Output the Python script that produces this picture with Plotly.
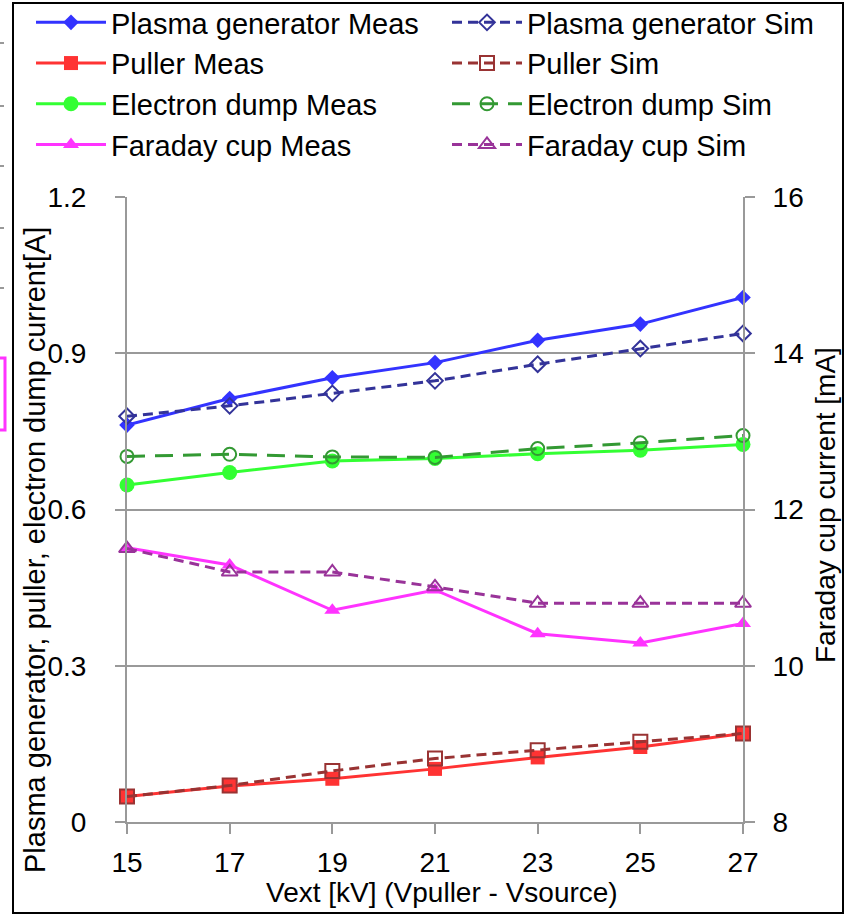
import plotly.graph_objects as go

# Extraction voltage [kV]
vext = [15, 17, 19, 21, 23, 25, 27]

# Currents on the left axis [A]
plasma_meas = [0.762, 0.813, 0.853, 0.882, 0.925, 0.956, 1.007]
plasma_sim = [0.779, 0.799, 0.823, 0.847, 0.879, 0.909, 0.938]
puller_meas = [0.049, 0.069, 0.083, 0.102, 0.124, 0.144, 0.170]
puller_sim = [0.049, 0.070, 0.098, 0.122, 0.138, 0.154, 0.170]
edump_meas = [0.647, 0.671, 0.693, 0.698, 0.707, 0.714, 0.725]
edump_sim = [0.702, 0.706, 0.701, 0.700, 0.717, 0.728, 0.742]

# Faraday cup current on the right axis [mA]
faraday_meas = [11.51, 11.29, 10.71, 10.97, 10.41, 10.29, 10.54]
faraday_sim = [11.50, 11.20, 11.20, 11.01, 10.80, 10.80, 10.80]

left_ticks = [0, 0.3, 0.6, 0.9, 1.2]
left_labels = ["0", "0.3", "0.6", "0.9", "1.2"]
right_ticks = [8, 10, 12, 14, 16]

W, H = 846, 916
ML, MR, MT, MB = 127, 103, 197, 94
PW, PH = W - ML - MR, H - MT - MB


def px_x(p):
    return (p - ML) / PW


def px_y(p):
    return (H - MB - p) / PH


FONT = "Liberation Sans"
GRAY = "#999999"

fig = go.Figure()


def add(y, name, color, symbol, size, dash, legend, yaxis="y", open_marker=False):
    marker = dict(symbol=symbol, size=size, color=color)
    if open_marker:
        marker = dict(symbol=symbol + "-open", size=size, color=color,
                      line=dict(width=2, color=color))
    fig.add_trace(go.Scatter(
        x=vext, y=y, name=name, mode="lines+markers",
        line=dict(color=color, width=3, dash=dash),
        marker=marker, yaxis=yaxis, legend=legend, cliponaxis=False,
    ))


# measured series (solid, filled markers)
add(plasma_meas, "Plasma generator Meas", "#3333FF", "diamond", 12, "solid", "legend")
add(puller_meas, "Puller Meas", "#FF3333", "square", 14, "solid", "legend")
add(edump_meas, "Electron dump Meas", "#33FF33", "circle", 15, "solid", "legend")
add(faraday_meas, "Faraday cup Meas", "#FF33FF", "triangle-up", 14, "solid", "legend", yaxis="y2")

# simulated series (dashed, open markers)
add(plasma_sim, "Plasma generator Sim", "#333399", "diamond", 12, "10px,6px", "legend2", open_marker=True)
add(puller_sim, "Puller Sim", "#993333", "square", 14, "10px,6px", "legend2", open_marker=True)
add(edump_sim, "Electron dump Sim", "#339933", "circle", 13, "18px,10px", "legend2", open_marker=True)
add(faraday_sim, "Faraday cup Sim", "#993399", "triangle-up", 14, "10px,6px", "legend2",
    yaxis="y2", open_marker=True)

legend_common = dict(
    orientation="v", yanchor="top", xanchor="left",
    font=dict(family=FONT, size=29, color="black"),
    bgcolor="rgba(0,0,0,0)", itemwidth=70, tracegroupgap=0,
)

shapes = [
    # outer chart frame
    dict(type="rect", xref="paper", yref="paper",
         x0=px_x(13), x1=px_x(843), y0=px_y(913), y1=px_y(3),
         line=dict(color="black", width=2), layer="below"),
]
# small marks along the left edge
for yy in [43, 106, 166, 228, 288]:
    shapes.append(dict(type="line", xref="paper", yref="paper",
                       x0=px_x(0), x1=px_x(4), y0=px_y(yy), y1=px_y(yy),
                       line=dict(color="#777777", width=1.5)))
shapes.append(dict(type="rect", xref="paper", yref="paper",
                   x0=px_x(-10), x1=px_x(5), y0=px_y(430), y1=px_y(358),
                   line=dict(color="#FF33FF", width=3)))

annotations = [
    dict(text="Plasma generator, puller, electron dump current[A]",
         xref="paper", yref="paper", x=px_x(35), y=px_y(550),
         textangle=-90, showarrow=False, xanchor="center", yanchor="middle",
         font=dict(family=FONT, size=29, color="black")),
    dict(text="Faraday cup current [mA]",
         xref="paper", yref="paper", x=px_x(825), y=px_y(505),
         textangle=-90, showarrow=False, xanchor="center", yanchor="middle",
         font=dict(family=FONT, size=28, color="black")),
    dict(text="Vext [kV] (Vpuller - Vsource)",
         xref="paper", yref="paper", x=px_x(442), y=px_y(892),
         showarrow=False, xanchor="center", yanchor="middle",
         font=dict(family=FONT, size=28, color="black")),
]

fig.update_layout(
    width=W, height=H,
    margin=dict(l=ML, r=MR, t=MT, b=MB, pad=0, autoexpand=False),
    paper_bgcolor="white", plot_bgcolor="white",
    font=dict(family=FONT, size=28, color="black"),
    showlegend=True,
    legend=dict(x=px_x(31), y=px_y(-3), **legend_common),
    legend2=dict(x=px_x(447), y=px_y(-3), **legend_common),
    xaxis=dict(
        range=[15, 27], tickvals=vext, ticktext=[str(v) for v in vext],
        showgrid=False, zeroline=False, showline=True, linecolor=GRAY, linewidth=2,
        ticks="outside", ticklen=10, tickwidth=2, tickcolor=GRAY,
        ticklabelstandoff=4,
        tickfont=dict(family=FONT, size=28, color="black"),
    ),
    yaxis=dict(
        range=[0, 1.2], tickvals=left_ticks, ticktext=left_labels,
        showgrid=True, gridcolor=GRAY, gridwidth=2, zeroline=False,
        showline=True, linecolor=GRAY, linewidth=2,
        ticks="outside", ticklen=10, tickwidth=2, tickcolor=GRAY,
        ticklabelstandoff=23,
        tickfont=dict(family=FONT, size=28, color="black"),
    ),
    yaxis2=dict(
        range=[8, 16], tickvals=right_ticks, overlaying="y", side="right",
        showgrid=False, zeroline=False, showline=True, linecolor=GRAY, linewidth=2,
        ticks="outside", ticklen=10, tickwidth=2, tickcolor=GRAY,
        ticklabelstandoff=12,
        tickfont=dict(family=FONT, size=28, color="black"),
    ),
    shapes=shapes,
    annotations=annotations,
)

fig.write_html("out.html")
